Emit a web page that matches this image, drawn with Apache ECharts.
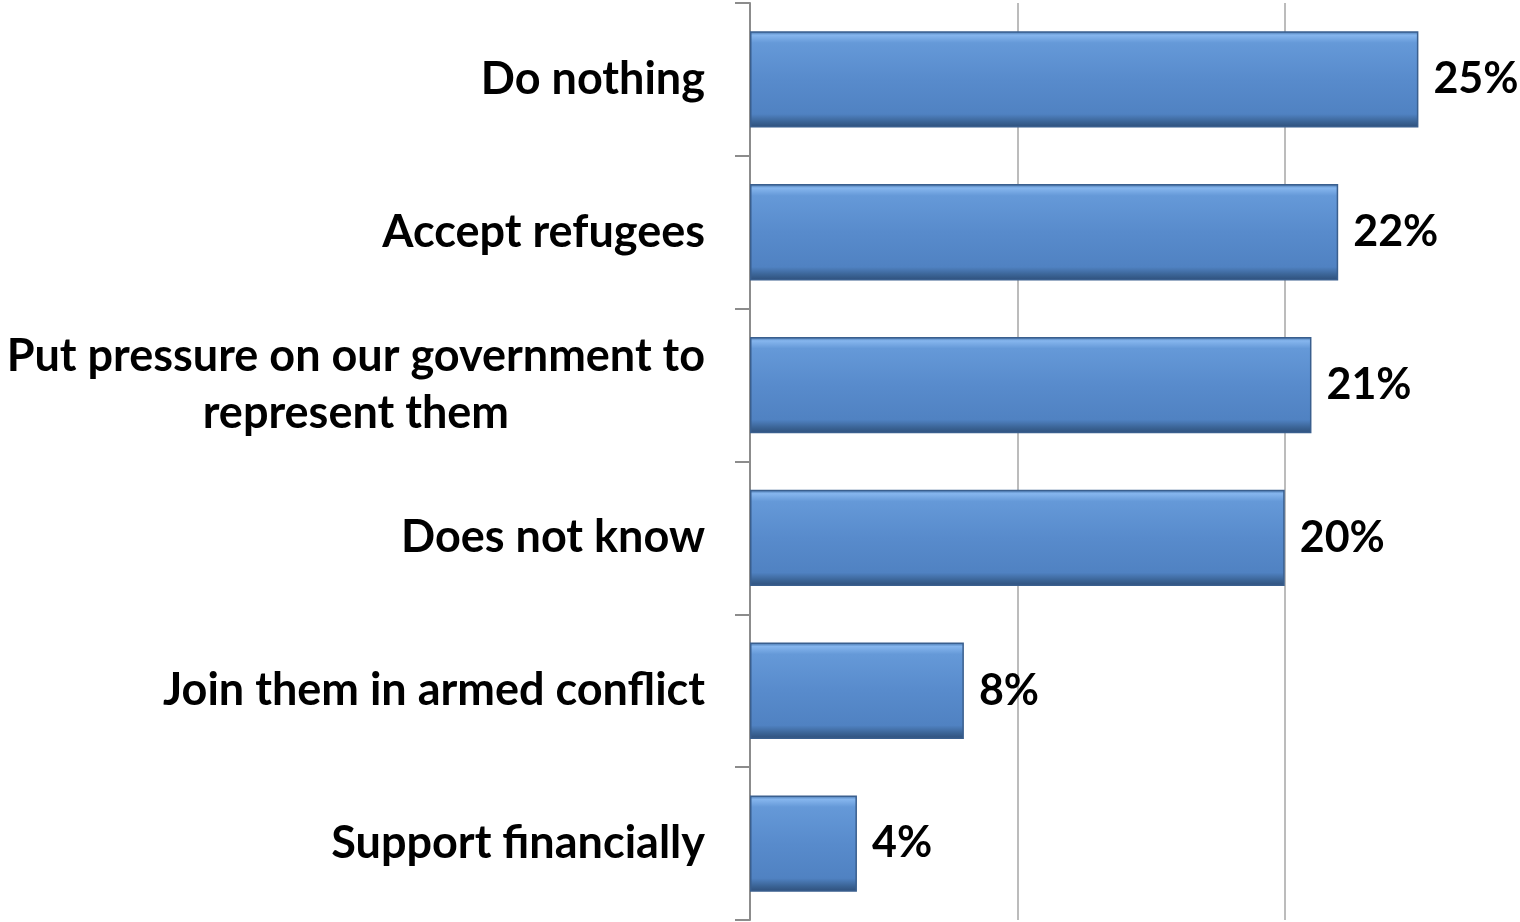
<!DOCTYPE html>
<html>
<head>
<meta charset="utf-8">
<script src="https://cdn.jsdelivr.net/npm/echarts@6/dist/echarts.min.js"></script>
<style>html,body{margin:0;padding:0;background:#fff}#c{width:1520px;height:922px}</style>
</head>
<body>
<div id="c"></div>
<script>
const categories = ["Do nothing", "Accept refugees", "Put pressure on our government to\nrepresent them", "Does not know", "Join them in armed conflict", "Support financially"];
const values = [25, 22, 21, 20, 8, 4];
const xTicks = [0, 10, 20];

const chart = echarts.init(document.getElementById('c'), null, {renderer: 'canvas'});
const barGradient = new echarts.graphic.LinearGradient(0, 0, 0, 1, [
  {offset: 0, color: '#3f6ea6'},
  {offset: 0.04, color: '#86b6ee'},
  {offset: 0.12, color: '#6599d8'},
  {offset: 0.5, color: '#588bcc'},
  {offset: 0.86, color: '#5082c2'},
  {offset: 0.94, color: '#3b6496'},
  {offset: 1, color: '#2e4f7a'}
]);
chart.setOption({
  animation: false,
  grid: {left: 750, right: 0, top: 3, bottom: 2, containLabel: false},
  xAxis: {
    type: 'value', min: xTicks[0], max: 28.8, interval: 10,
    axisLabel: {show: false}, axisTick: {show: false}, axisLine: {show: false},
    splitLine: {show: true, showMaxLine: false, lineStyle: {color: '#a6a6a6', width: 1.5}}
  },
  yAxis: {
    type: 'category', data: categories, inverse: true,
    axisLine: {show: true, lineStyle: {color: '#8c8c8c', width: 2}},
    axisTick: {show: true, length: 15, lineStyle: {color: '#8c8c8c', width: 2}},
    axisLabel: {
      margin: 45,
      formatter: function (v) { return v.split('\n').map(s => '{c|' + s + '}').join('\n'); },
      rich: {c: {align: 'center', fontFamily: 'Lato', fontWeight: 'bold', fontSize: 45, color: '#000', lineHeight: 57}}
    }
  },
  series: [{
    type: 'bar', data: values, barCategoryGap: '37%',
    itemStyle: {color: barGradient, borderColor: '#3a5f8e', borderWidth: 1.5},
    label: {show: true, position: 'right', distance: 15, formatter: '{c}%',
      fontFamily: 'Lato', fontWeight: 'bold', fontSize: 43, color: '#000'}
  }]
});
</script>
</body>
</html>
